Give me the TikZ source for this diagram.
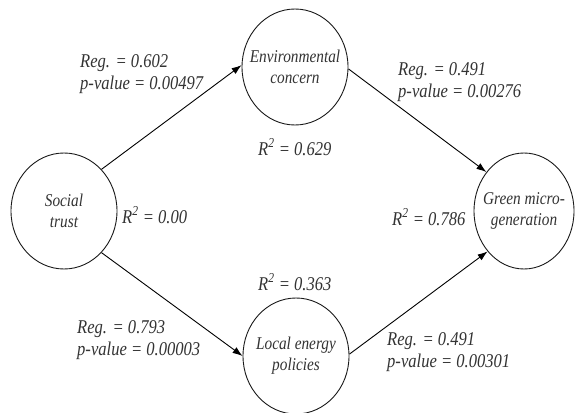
\documentclass[tikz,border=0pt]{standalone}
\usepackage{fontspec}
\setmainfont{Liberation Serif}[FakeStretch=0.85]
\usepackage{tikz}
\usetikzlibrary{shapes.geometric, arrows.meta}
\tikzstyle{construct} = [ellipse, draw=black!90, line width=0.9pt,
minimum width=106pt, minimum height=116pt, inner sep=0pt]
\tikzstyle{inside} = [align=center, text=black!80,
font=\fontsize{18}{21}\selectfont\itshape]
\tikzstyle{stat} = [anchor=west, align=left, inner sep=0pt, text=black!80,
font=\fontsize{19.5}{22}\selectfont\itshape]
\tikzstyle{arrow} = [line width=0.9pt, ->, >={Latex[length=10pt, width=7pt]}]

\begin{document}
\begin{tikzpicture}[x=1pt, y=-1pt]
\useasboundingbox[fill=white] (0,0) rectangle (575,412);

\node(social)[construct, label={[inside]center:Social\\trust}] at (64,211) {};
\node(env)[construct, label={[inside]center:Environmental\\concern}] at (295,67) {};
\node(local)[construct, label={[inside]center:Local energy\\policies}] at (296,356) {};
\node(green)[construct, minimum width=100pt, label={[inside]center:Green micro-\\generation}] at (524,211) {};

\draw[arrow](social.48) -- (env.178);
\draw[arrow](env.-2) -- (green.134);
\draw[arrow](social.-48) -- (local.180);
\draw[arrow](local.2) -- (green.-132);

\node(regse)[stat] at (80,74) {Reg. = 0.602\\p-value = 0.00497};
\node(regeg)[stat] at (398,82) {Reg. = 0.491\\p-value = 0.00276};
\node(regsl)[stat] at (77,340) {Reg. = 0.793\\p-value = 0.00003};
\node(reglg)[stat] at (387,352) {Reg. = 0.491\\p-value = 0.00301};

\node(rsqsocial)[stat] at (122,215) {R\textsuperscript{2} = 0.00};
\node(rsqenv)[stat] at (258,147) {R\textsuperscript{2} = 0.629};
\node(rsqlocal)[stat] at (258,282) {R\textsuperscript{2} = 0.363};
\node(rsqgreen)[stat] at (392,217) {R\textsuperscript{2} = 0.786};

\end{tikzpicture}
\end{document}
